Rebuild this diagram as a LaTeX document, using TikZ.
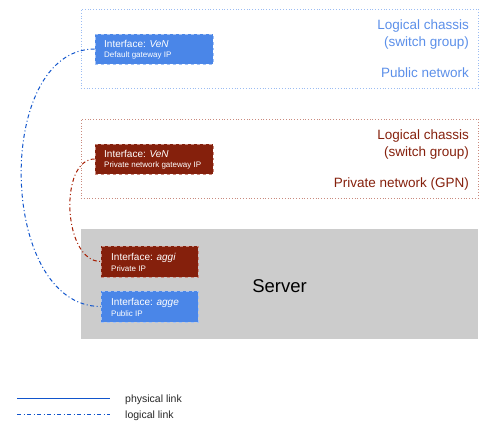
\documentclass[tikz,border=0pt]{standalone}
\usepackage{fontspec}
\setmainfont{Liberation Sans}
\definecolor{gblue}{HTML}{4A86E8}
\definecolor{gbluetext}{HTML}{5B8FE9}
\definecolor{gbluelight}{HTML}{A4C2F4}
\definecolor{gdblue}{HTML}{1155CC}
\definecolor{gred}{HTML}{85200C}
\definecolor{gredlight}{HTML}{C98A7E}
\definecolor{gredline}{HTML}{A61C00}
\definecolor{ggray}{HTML}{CCCCCC}
\tikzset{
  fs/.style={font=\fontsize{#1bp}{#1bp}\selectfont},
  chassis/.style={draw, dotted, line width=0.8bp, minimum width=397bp, minimum height=79bp, inner sep=0pt},
  ifbox/.style={inner sep=0pt, minimum width=118bp, minimum height=30bp, dashed, line width=0.6bp},
  lbl/.style={inner sep=0pt, anchor=base west, text=white},
  rlbl/.style={inner sep=0pt, anchor=base east, fs=13.5},
  dashdot/.style={line width=1bp, dash pattern=on 4bp off 2.5bp on 1bp off 2.5bp},
}
\begin{document}
\begin{tikzpicture}[x=1bp,y=-1bp]
\useasboundingbox (0,0) rectangle (486,437);
% public chassis
\node[chassis, draw=gbluelight!90!gblue] (pubch) at (279.5,48.5) {};
\node[ifbox, fill=gblue, draw=gbluelight] (pubif) at (154,49) {};
\node[lbl, fs=10] (pubt1) at (104,48) {Interface: \textit{VeN}};
\node[lbl, fs=8] (pubt2) at (104,58) {Default gateway IP};
\node[rlbl, text=gbluetext] (pubc1) at (469,30) {Logical chassis};
\node[rlbl, text=gbluetext] (pubc2) at (469,47) {(switch group)};
\node[rlbl, text=gbluetext] (pubc3) at (469,78) {Public network};
% private chassis
\node[chassis, draw=gredlight] (prich) at (279.5,158.5) {};
\node[ifbox, fill=gred, draw=gredlight] (priif) at (154,159) {};
\node[lbl, fs=10] (prit1) at (104,158) {Interface: \textit{VeN}};
\node[lbl, fs=8] (prit2) at (104,168) {Private network gateway IP};
\node[rlbl, text=gred] (pric1) at (469,140) {Logical chassis};
\node[rlbl, text=gred] (pric2) at (469,157) {(switch group)};
\node[rlbl, text=gred] (pric3) at (469,188) {Private network (GPN)};
% server
\node[fill=ggray, inner sep=0pt, minimum width=397bp, minimum height=110bp] (server) at (279.5,284) {};
\node[fs=18.5, inner sep=0pt, anchor=base] (servert) at (279.5,292) {Server};
\node[ifbox, minimum width=97bp, minimum height=31bp, fill=gred, draw=gredlight] (aggi) at (149.5,261.5) {};
\node[lbl, fs=10] (aggit1) at (111,260) {Interface: \textit{aggi}};
\node[lbl, fs=8] (aggit2) at (111,271) {Private IP};
\node[ifbox, minimum width=97bp, minimum height=31bp, fill=gblue, draw=gbluelight] (agge) at (149.5,306.5) {};
\node[lbl, fs=10] (agget1) at (111,305) {Interface: \textit{agge}};
\node[lbl, fs=8] (agget2) at (111,316) {Public IP};
% links
\draw[dashdot, gdblue] (pubif.west) .. controls +(-101,0) and +(-103,0) .. (agge.west);
\draw[dashdot, gredline] (priif.west) .. controls +(-36,0) and +(-38,0) .. (aggi.west);
% legend
\coordinate (l1a) at (17,398);
\coordinate (l1b) at (110,398);
\coordinate (l2a) at (17,414.5);
\coordinate (l2b) at (110,414.5);
\draw[line width=1bp, gdblue] (l1a) -- (l1b);
\draw[dashdot, gdblue] (l2a) -- (l2b);
\node[inner sep=0pt, anchor=base west, fs=10.5, text=black!85] (leg1) at (125,402) {physical link};
\node[inner sep=0pt, anchor=base west, fs=10.5, text=black!85] (leg2) at (125,418) {logical link};
\end{tikzpicture}
\end{document}
